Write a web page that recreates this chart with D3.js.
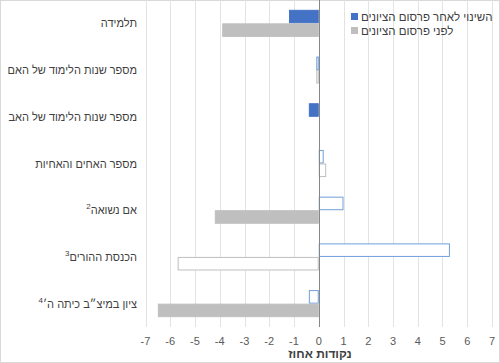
<!DOCTYPE html>
<html lang="he">
<head>
  <meta charset="utf-8">
  <title>Bar chart</title>
  <script type="text/javascript" src="https://cdn.jsdelivr.net/npm/d3@7"></script>
  <style type="text/css">
    body {
      margin: 0;
      font-family: "Liberation Sans", Arial, sans-serif;
    }
  </style>
</head>
<body>

<div id="chart"></div>

<script type="text/javascript">

const w = 500;
const h = 363;

// categories top to bottom, with footnote marks
const categories = ["תלמידה", "מספר שנות הלימוד של האם", "מספר שנות הלימוד של האב",
                    "מספר האחים והאחיות", "אם נשואה", "הכנסת ההורים", "ציון במיצ״ב כיתה ה׳"];
const footnotes = ["", "", "", "", "2", "3", "4"];

// series
const changeAfter = [-1.2, -0.1, -0.4, 0.2, 1.0, 5.3, -0.4];
const before = [-3.9, -0.1, 0, 0.3, -4.2, -5.7, -6.5];
// significant results are drawn filled, the others hollow
const sigAfter = [true, false, true, false, false, false, false];
const sigBefore = [true, false, false, false, true, false, true];

const seriesNames = ["השינוי לאחר פרסום הציונים", "לפני פרסום הציונים"];
const xTicks = d3.range(-7, 8);
const xTitle = "נקודות אחוז";

const blue = "#4472C4";
const blueLine = "#6F9FDB";
const gray = "#BFBFBF";

const svg = d3.select("#chart")
    .append("svg")
    .attr("width", w)
    .attr("height", h);

svg.append("rect")
    .attr("x", 0.5).attr("y", 0.5)
    .attr("width", w - 1).attr("height", h - 1)
    .attr("fill", "white")
    .attr("stroke", "#D9D9D9");

const x = d3.scaleLinear()
    .domain([-7, 7])
    .range([145.5, 492]);

const y = d3.scaleBand()
    .domain(categories)
    .range([0, 327])
    .paddingInner(0.42)
    .paddingOuter(0.21);

// gridlines
svg.append("g")
    .selectAll("line")
    .data(xTicks)
    .enter()
    .append("line")
    .attr("x1", d => Math.round(x(d)) + 0.5)
    .attr("x2", d => Math.round(x(d)) + 0.5)
    .attr("y1", 0)
    .attr("y2", 327)
    .attr("stroke", "#E3E3E3");

const bh = y.bandwidth() / 2;

function drawBars(values, sig, offset, fill, line) {
  svg.append("g")
      .selectAll("rect")
      .data(values)
      .enter()
      .append("rect")
      .attr("x", d => x(Math.min(0, d)) + 0.5)
      .attr("y", (d, i) => y(categories[i]) + offset + 0.5)
      .attr("width", d => Math.max(0, Math.abs(x(d) - x(0)) - 1))
      .attr("height", bh - 1)
      .attr("fill", (d, i) => sig[i] ? fill : "white")
      .attr("stroke", (d, i) => sig[i] ? fill : line)
      .attr("stroke-width", 1);
}

drawBars(changeAfter, sigAfter, 0, blue, blueLine);
drawBars(before, sigBefore, bh, gray, gray);

// zero line
svg.append("line")
    .attr("x1", Math.round(x(0)) + 0.5)
    .attr("x2", Math.round(x(0)) + 0.5)
    .attr("y1", 0)
    .attr("y2", 327)
    .attr("stroke", "#868686");

// x axis labels
svg.append("g")
    .selectAll("text")
    .data(xTicks)
    .enter()
    .append("text")
    .attr("x", d => x(d))
    .attr("y", 345)
    .attr("text-anchor", "middle")
    .attr("font-size", 11)
    .attr("fill", "#595959")
    .text(d => d < 0 ? "-" + Math.abs(d) : d);

svg.append("text")
    .attr("x", 320)
    .attr("y", 358)
    .attr("text-anchor", "middle")
    .attr("font-size", 12)
    .attr("font-weight", "bold")
    .attr("fill", "#404040")
    .text(xTitle);

// category labels
const labels = svg.append("g")
    .selectAll("text")
    .data(categories)
    .enter()
    .append("text")
    .attr("x", 137)
    .attr("y", d => y(d) + y.bandwidth() / 2 + 4)
    .attr("text-anchor", "end")
    .attr("font-size", 11)
    .attr("fill", "#404040");

labels.append("tspan").text(d => d);
labels.append("tspan")
    .attr("font-size", 8)
    .attr("dy", -5)
    .text((d, i) => footnotes[i]);

// legend
const legend = svg.append("g")
    .attr("transform", "translate(351,17)");

legend.selectAll("rect")
    .data(seriesNames)
    .enter()
    .append("rect")
    .attr("x", 0)
    .attr("y", (d, i) => i * 14 - 4)
    .attr("width", 7)
    .attr("height", 7)
    .attr("fill", (d, i) => i === 0 ? blue : gray);

legend.selectAll("text")
    .data(seriesNames)
    .enter()
    .append("text")
    .attr("x", 10)
    .attr("y", (d, i) => i * 14 + 4)
    .attr("font-size", 11.5)
    .attr("fill", "#404040")
    .text(d => d);

</script>

</body>
</html>
